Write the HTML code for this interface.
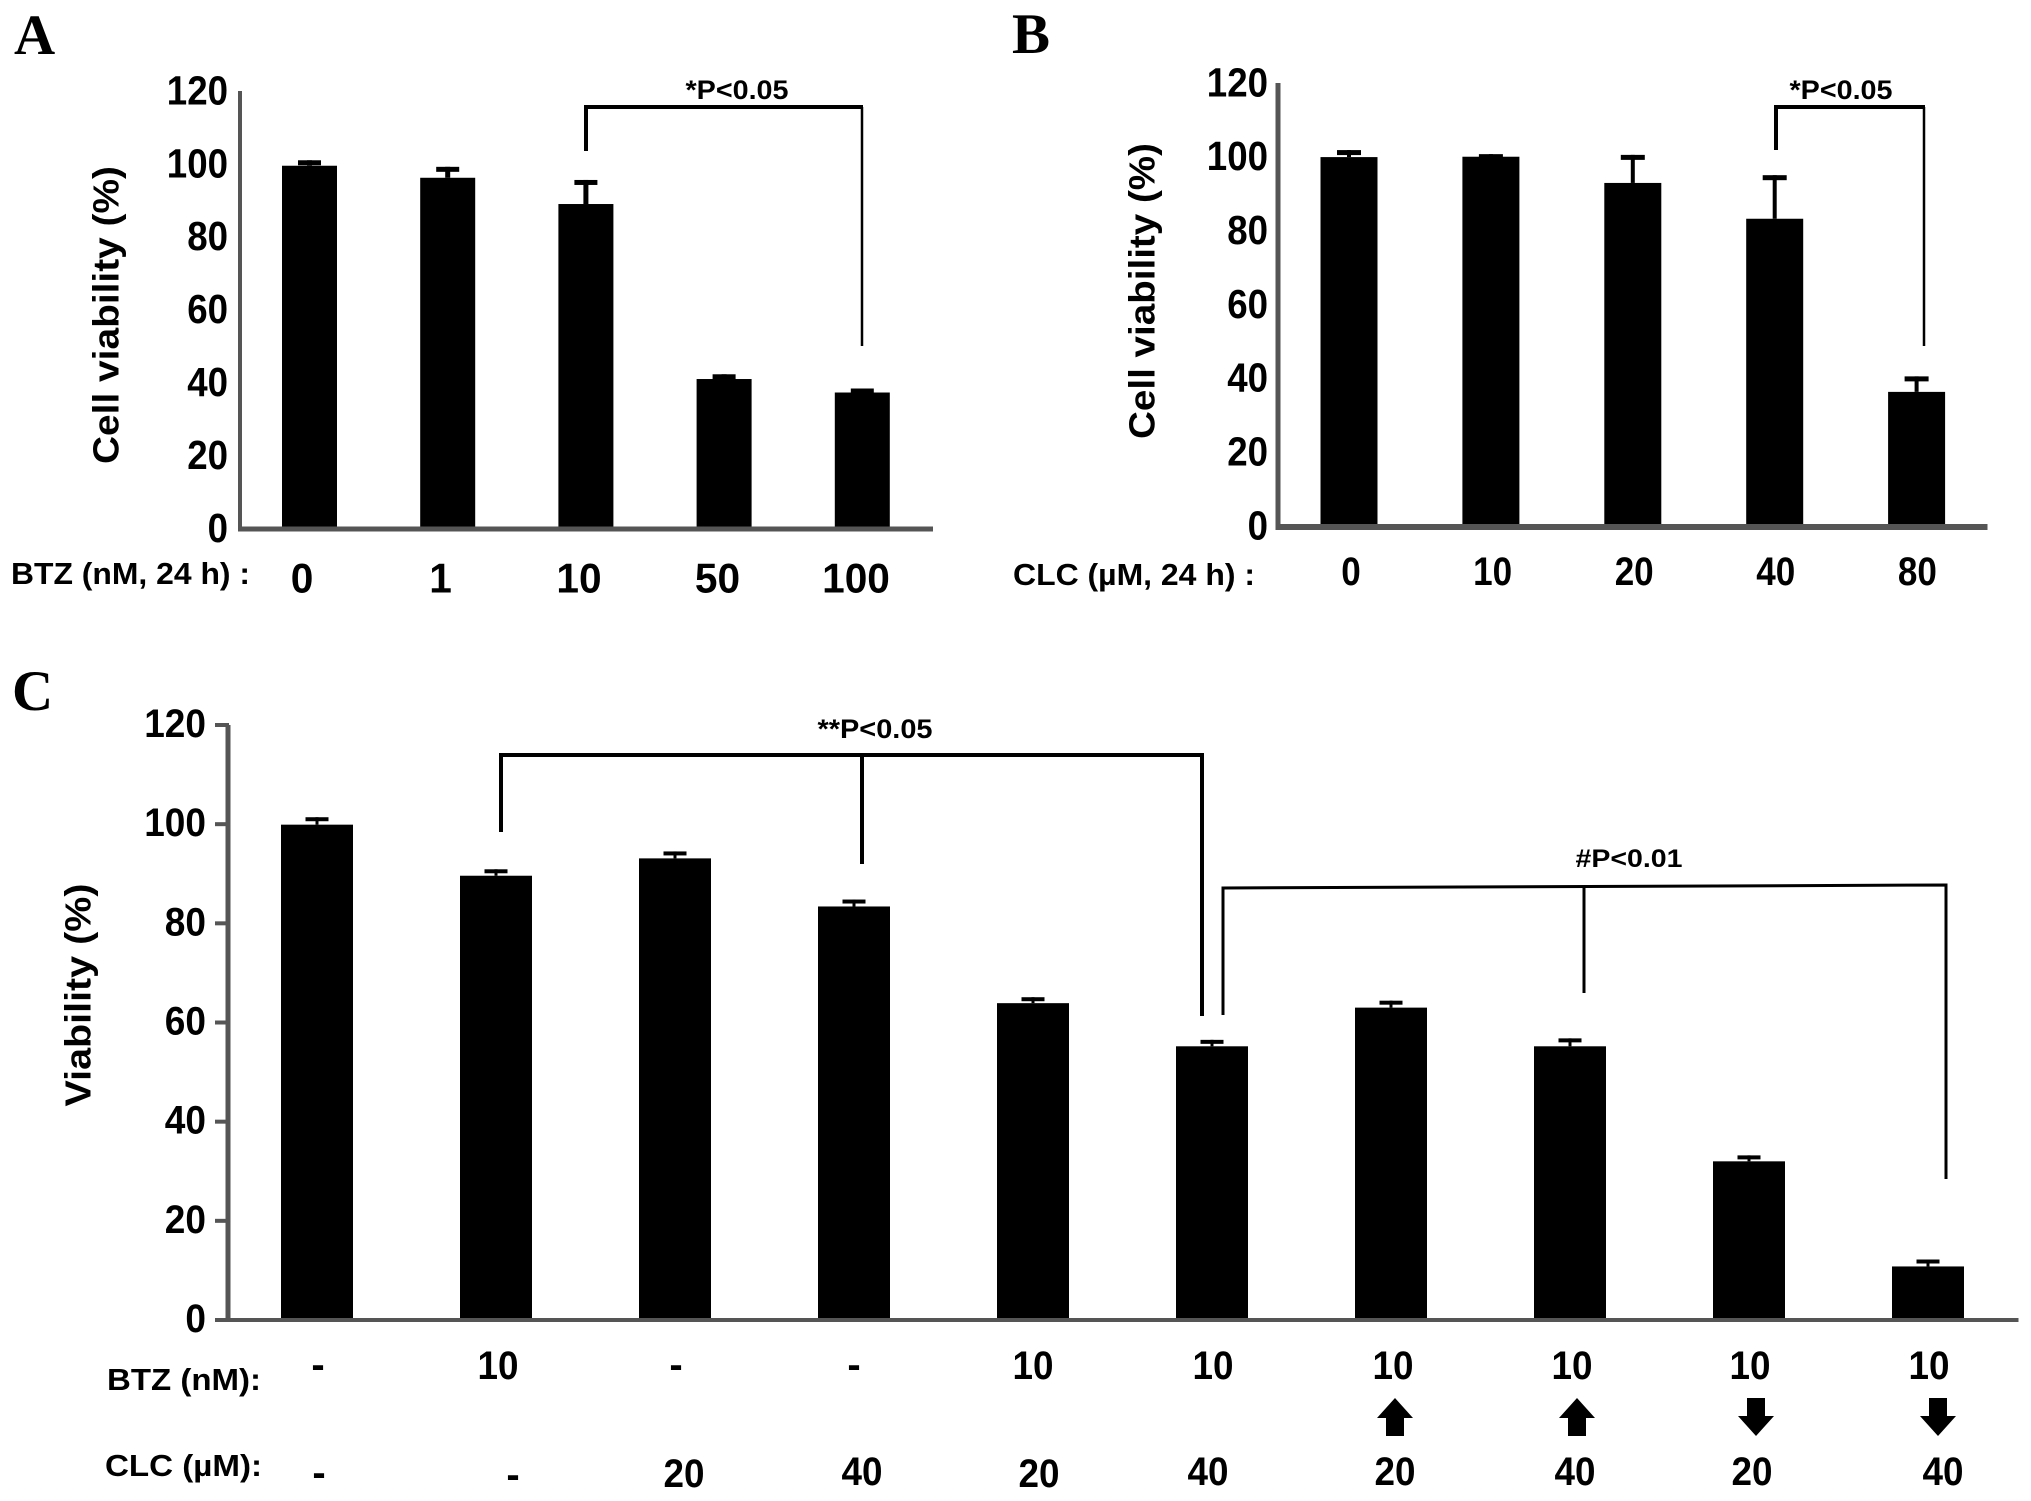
<!DOCTYPE html>
<html lang="en">
<head>
<meta charset="utf-8">
<title>Cell viability bar charts</title>
<style>
html,body{margin:0;padding:0;background:#fff;}
svg{display:block;}
text{font-family:"Liberation Sans",sans-serif;font-weight:bold;fill:#000;}
.panel{font-family:"Liberation Serif",serif;font-size:57px;}
.br{stroke:#000;fill:none;stroke-linecap:butt;}
</style>
</head>
<body>
<svg id="fig" xmlns="http://www.w3.org/2000/svg" width="2031" height="1501" viewBox="0 0 2031 1501">
  <rect width="2031" height="1501" fill="#fff"/>
  <text class="panel" x="14" y="54">A</text>
  <text class="panel" x="1012" y="53">B</text>
  <text class="panel" x="12" y="710">C</text>

  <g id="panelA"></g>
  <g id="panelB"></g>
  <g id="panelC"></g>

  <g>
    <path class="br" stroke-width="4" d="M586 151V107H863"/>
    <path class="br" stroke-width="2.5" d="M862 107V346"/>
    <text x="737" y="99" font-size="27" text-anchor="middle" textLength="103" lengthAdjust="spacingAndGlyphs">*P&lt;0.05</text>
  </g>
  <g>
    <path class="br" stroke-width="4" d="M1776 150V107H1925"/>
    <path class="br" stroke-width="2.5" d="M1924 107V346"/>
    <text x="1841" y="99" font-size="27" text-anchor="middle" textLength="103" lengthAdjust="spacingAndGlyphs">*P&lt;0.05</text>
  </g>
  <g>
    <path class="br" stroke-width="4" d="M501 832V755H1202V1016"/>
    <path class="br" stroke-width="4" d="M862 755V864"/>
    <text x="875" y="738" font-size="27" text-anchor="middle" textLength="115" lengthAdjust="spacingAndGlyphs">**P&lt;0.05</text>
    <path class="br" stroke-width="3" d="M1223 1015V888L1946 885V1179"/>
    <path class="br" stroke-width="3" d="M1584 887V993"/>
    <text x="1629" y="867" font-size="25" text-anchor="middle" textLength="107" lengthAdjust="spacingAndGlyphs">#P&lt;0.01</text>
  </g>

  <g font-size="30">
    <text x="11" y="584" font-size="31" textLength="239" lengthAdjust="spacingAndGlyphs">BTZ (nM, 24 h) :</text>
    <text x="1013" y="585" font-size="31" textLength="242" lengthAdjust="spacingAndGlyphs">CLC (µM, 24 h) :</text>
    <text x="107" y="1390" font-size="31" textLength="154" lengthAdjust="spacingAndGlyphs">BTZ (nM):</text>
    <text x="105" y="1476" font-size="31" textLength="157" lengthAdjust="spacingAndGlyphs">CLC (µM):</text>
  </g>

  <g font-size="40" text-anchor="middle">
    <text x="318" y="1378">-</text>
    <text x="498" y="1379" textLength="41" lengthAdjust="spacingAndGlyphs">10</text>
    <text x="676" y="1378">-</text>
    <text x="854" y="1378">-</text>
    <text x="1033" y="1379" textLength="41" lengthAdjust="spacingAndGlyphs">10</text>
    <text x="1213" y="1379" textLength="41" lengthAdjust="spacingAndGlyphs">10</text>
    <text x="1393" y="1379" textLength="41" lengthAdjust="spacingAndGlyphs">10</text>
    <text x="1572" y="1379" textLength="41" lengthAdjust="spacingAndGlyphs">10</text>
    <text x="1750" y="1379" textLength="41" lengthAdjust="spacingAndGlyphs">10</text>
    <text x="1929" y="1379" textLength="41" lengthAdjust="spacingAndGlyphs">10</text>
  </g>
  <g font-size="40" text-anchor="middle">
    <text x="319" y="1486">-</text>
    <text x="513" y="1488">-</text>
    <text x="684" y="1487" textLength="41" lengthAdjust="spacingAndGlyphs">20</text>
    <text x="862" y="1485" textLength="41" lengthAdjust="spacingAndGlyphs">40</text>
    <text x="1039" y="1487" textLength="41" lengthAdjust="spacingAndGlyphs">20</text>
    <text x="1208" y="1485" textLength="41" lengthAdjust="spacingAndGlyphs">40</text>
    <text x="1395" y="1485" textLength="41" lengthAdjust="spacingAndGlyphs">20</text>
    <text x="1575" y="1485" textLength="41" lengthAdjust="spacingAndGlyphs">40</text>
    <text x="1752" y="1485" textLength="41" lengthAdjust="spacingAndGlyphs">20</text>
    <text x="1943" y="1485" textLength="41" lengthAdjust="spacingAndGlyphs">40</text>
  </g>
  <g fill="#000">
    <polygon points="1395,1398 1413,1418 1404,1418 1404,1436 1386,1436 1386,1418 1377,1418"/>
    <polygon points="1577,1398 1595,1418 1586,1418 1586,1436 1568,1436 1568,1418 1559,1418"/>
    <polygon points="1756,1436 1738,1416 1747,1416 1747,1398 1765,1398 1765,1416 1774,1416"/>
    <polygon points="1938,1436 1920,1416 1929,1416 1929,1398 1947,1398 1947,1416 1956,1416"/>
  </g>
</svg>

<script>
/* Panel A data */
const doseA = ["0", "1", "10", "50", "100"];
const viabilityA = [99.5, 96.2, 89, 41, 37.3];
const errorA = [1.5, 3, 6.6, 1.3, 1.1];
/* Panel B data */
const doseB = ["0", "10", "20", "40", "80"];
const viabilityB = [100.2, 100.3, 93.2, 83.5, 36.6];
const errorB = [1.9, 0.7, 7.6, 11.8, 4.2];
/* Panel C data */
const groupsC = ["control", "BTZ10", "CLC20", "CLC40", "BTZ10+CLC20", "BTZ10+CLC40", "BTZ10+CLC20up", "BTZ10+CLC40up", "BTZ10+CLC20down", "BTZ10+CLC40down"];
const viabilityC = [99.9, 89.6, 93.1, 83.4, 63.9, 55.2, 63, 55.2, 32, 10.8];
const errorC = [1.5, 1.3, 1.4, 1.4, 1.2, 1.3, 1.4, 1.6, 1.2, 1.4];
/* Shared axis ticks */
const tickLabels = ["0", "20", "40", "60", "80", "100", "120"];
const tickValues = [0, 20, 40, 60, 80, 100, 120];

const NS = "http://www.w3.org/2000/svg";
function mk(parent, tag, attrs) {
  const e = document.createElementNS(NS, tag);
  for (const k in attrs) e.setAttribute(k, attrs[k]);
  parent.appendChild(e);
  return e;
}
function linearY(zeroPx, maxPx, maxVal) {
  return function (v) { return zeroPx - (v / maxVal) * (zeroPx - maxPx); };
}
function bandX(firstPx, stepPx) {
  return function (i) { return firstPx + i * stepPx; };
}
function drawBars(g, values, errors, x, y, barW, capW, capH, stem) {
  values.forEach(function (v, i) {
    const cx = x(i);
    const bar = mk(g, "rect", { x: cx - barW / 2, y: y(v), width: barW, height: y(0) - y(v), fill: "#000" });
    
    
    const top = y(v + errors[i]);
    const st = mk(g, "rect", { x: cx - stem / 2, y: top, width: stem, height: Math.max(0, y(v) - top), fill: "#000" });
    
    
    const cap = mk(g, "rect", { x: cx - capW / 2, y: top, width: capW, height: capH, fill: "#000" });
    
    
  });
}
function drawTicks(g, y, rightPx, size, perChar, dy) {
  tickValues.forEach(function (v, i) {
    const s = tickLabels[i];
    const t = mk(g, "text", { x: rightPx, y: y(v) + size * 0.35 + dy, "font-size": size, "text-anchor": "end", textLength: s.length * perChar, lengthAdjust: "spacingAndGlyphs" });
    t.textContent = s;
    
    
  });
}
function drawCategoryLabels(g, labels, x, yPx, size, perChar) {
  labels.forEach(function (s, i) {
    const t = mk(g, "text", { x: x(i), y: yPx + size * 0.35, "font-size": size, "text-anchor": "middle", textLength: s.length * perChar, lengthAdjust: "spacingAndGlyphs" });
    t.textContent = s;
    
    
  });
}
function drawAxes(g, x0, yTop, yBase, xEnd, wY, wX) {
  const ya = mk(g, "rect", { x: x0 - wY / 2, y: yTop, width: wY, height: yBase - yTop + wX / 2, fill: "#555" });
  
  
  const xa = mk(g, "rect", { x: x0 - wY / 2, y: yBase - wX / 2, width: xEnd - x0, height: wX, fill: "#555" });
  
  
}
function drawYTitle(g, str, cx, cy, size, len) {
  const t = mk(g, "text", { transform: "translate(" + cx + " " + cy + ") rotate(-90)", "font-size": size, "text-anchor": "middle", textLength: len, lengthAdjust: "spacingAndGlyphs" });
  t.textContent = str;
  
  
}

/* Panel A */
(function () {
  const g = document.getElementById("panelA");
  const y = linearY(528.5, 91, 120);
  const x = bandX(309.5, 138.2);
  const lx = bandX(302, 138.5);
  drawBars(g, viabilityA, errorA, x, y, 55, 23, 5, 5);
  drawAxes(g, 240, 91, 529, 935, 4, 5);
  drawTicks(g, y, 228, 41, 20.4, -1);
  drawCategoryLabels(g, doseA, lx, 578, 42, 22.6);
  drawYTitle(g, "Cell viability (%)", 118.5, 315, 36, 298);
})();

/* Panel B */
(function () {
  const g = document.getElementById("panelB");
  const y = linearY(527, 84, 120);
  const x = bandX(1349, 141.9);
  const lx = bandX(1351, 141.6);
  drawBars(g, viabilityB, errorB, x, y, 57, 24, 5, 4);
  drawAxes(g, 1278, 83, 527, 1990, 5, 6);
  drawTicks(g, y, 1268, 41, 20.4, -2);
  drawCategoryLabels(g, doseB, lx, 571, 40, 19.5);
  drawYTitle(g, "Cell viability (%)", 1154.5, 291, 36, 296);
})();

/* Panel C */
(function () {
  const g = document.getElementById("panelC");
  const y = linearY(1320, 725, 120);
  const x = bandX(317, 179);
  drawBars(g, viabilityC, errorC, x, y, 72, 23, 4, 3);
  drawAxes(g, 228, 725, 1320, 2021, 5, 4);
  tickValues.forEach(function (v) {
    const tm = mk(g, "rect", { x: 215, y: y(v) - 2, width: 14, height: 4, fill: "#555" });
    
    
  });
  drawTicks(g, y, 206, 40, 20.6, -2);
  drawYTitle(g, "Viability (%)", 90.5, 995, 36, 223);
})();
</script>
</body>
</html>
